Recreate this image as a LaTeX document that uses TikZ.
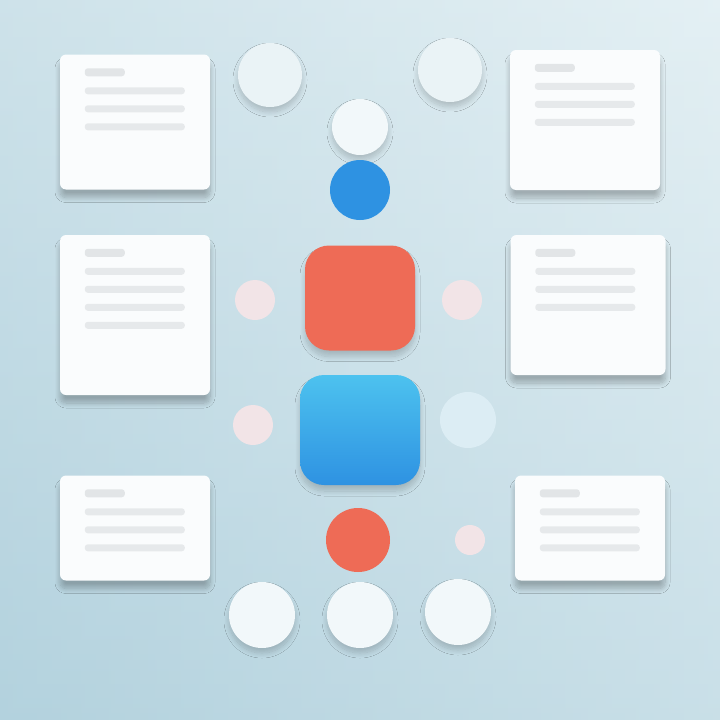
\documentclass[tikz,border=0pt]{standalone}
\usetikzlibrary{shadows.blur,shapes.geometric}
\definecolor{bgtop}{HTML}{E4F0F4}
\definecolor{bgbot}{HTML}{B3D2DE}
\definecolor{cardw}{HTML}{FAFCFD}
\definecolor{lineg}{HTML}{E2E5E7}
\definecolor{myblue}{HTML}{2E92E2}
\definecolor{myred}{HTML}{EE6B56}
\definecolor{palepink}{HTML}{F2E4E7}
\definecolor{paleblue}{HTML}{DCEDF4}
\definecolor{softw}{HTML}{EAF3F6}
\tikzset{
  card/.style={draw=none,fill=cardw,rounded corners=6pt,minimum width=150pt,minimum height=135pt,
    blur shadow={shadow blur steps=10,shadow blur radius=5pt,shadow xshift=0pt,shadow yshift=-8pt,shadow opacity=25}},
  bar/.style={fill=lineg,rounded corners=3pt},
  softcirc/.style={circle,draw=none,fill=softw,
    blur shadow={shadow blur steps=10,shadow blur radius=5pt,shadow xshift=0pt,shadow yshift=-5pt,shadow opacity=18}},
  dot/.style={circle,draw=none,fill=palepink},
  bigsq/.style={rounded corners=24pt,draw=none,
    blur shadow={shadow blur steps=10,shadow blur radius=5pt,shadow xshift=0pt,shadow yshift=-6pt,shadow opacity=18}},
}
\begin{document}
\begin{tikzpicture}[x=1pt,y=-1pt]
\useasboundingbox (0,0) rectangle (720,720);
\shade[top color=bgtop,bottom color=bgbot] (0,0) rectangle (720,720);
\shade[left color=bgbot,right color=bgtop,opacity=0.45] (0,0) rectangle (720,720);
% cards
\node[card,minimum height=135pt] (c1) at (135,122) {};
\node[card,minimum height=160pt] (c2) at (135,315) {};
\node[card,minimum height=105pt] (c3) at (135,528) {};
\node[card,minimum height=140pt] (c4) at (585,120) {};
\node[card,minimum height=140pt,minimum width=155pt] (c5) at (588,305) {};
\node[card,minimum height=105pt] (c6) at (590,528) {};
% bars in cards
\foreach \c/\n in {c1/3,c2/4,c3/3,c4/3,c5/3,c6/3}{
  \fill[bar] ([xshift=25pt,yshift=-22pt]\c.north west) rectangle ++(40,-8);
  \foreach \i in {1,...,\n}{
    \fill[bar,opacity=0.8] ([xshift=25pt,yshift=-22pt-\i*18pt]\c.north west) rectangle ++(100,-7);
  }
}
% circles top
\node[softcirc,minimum size=64pt] (t1) at (270,75) {};
\node[softcirc,minimum size=64pt] (t2) at (450,70) {};
\node[softcirc,minimum size=56pt,fill=softw!60!white] (t3) at (360,127) {};
\node[circle,fill=myblue,minimum size=60pt] (b1) at (360,190) {};
% center squares
\node[bigsq,fill=myred,minimum width=110pt,minimum height=105pt] (rsq) at (360,298) {};
\node[bigsq,minimum width=120pt,minimum height=110pt,top color=myblue!70!cyan!80!white,bottom color=myblue] (bsq) at (360,430) {};
\node[circle,fill=myred,minimum size=64pt] (rc) at (358,540) {};
% small dots
\node[dot,minimum size=40pt] (d1) at (255,300) {};
\node[dot,minimum size=40pt] (d2) at (462,300) {};
\node[dot,minimum size=40pt] (d3) at (253,425) {};
\node[circle,fill=paleblue,minimum size=56pt] (d4) at (468,420) {};
\node[dot,minimum size=30pt] (d5) at (470,540) {};
% bottom circles
\node[softcirc,minimum size=66pt,fill=softw!60!white] (m1) at (262,615) {};
\node[softcirc,minimum size=66pt,fill=softw!60!white] (m2) at (360,615) {};
\node[softcirc,minimum size=66pt,fill=softw!60!white] (m3) at (458,612) {};
\end{tikzpicture}
\end{document}
